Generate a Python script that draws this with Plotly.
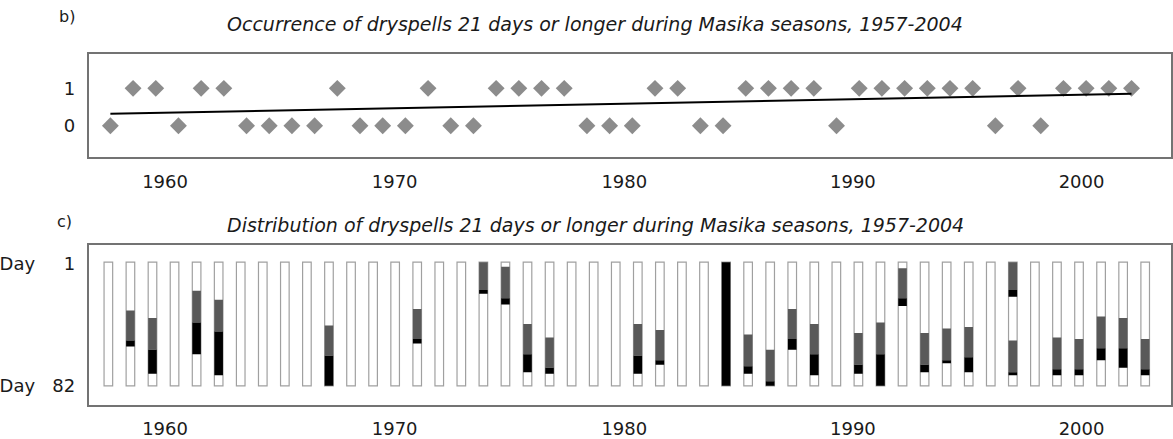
import numpy as np
import plotly.graph_objects as go

# ---------------- data ----------------
# Panel b: occurrence (1 = a dry spell of >= 21 days occurred), seasons in plotted order
occurrence_years = list(range(1957, 1989)) + list(range(1990, 2004))
occurrence = [0, 1, 1, 0, 1, 1, 0, 0, 0, 0, 1, 0, 0, 0, 1, 0, 0, 1, 1, 1, 1, 0, 0, 0,
              1, 1, 0, 0, 1, 1, 1, 1, 0, 1, 1, 1, 1, 1, 1, 0, 1, 0, 1, 1, 1, 1]

# Panel c: distribution of spells within the season (day 1 .. day 82)
season_years = list(range(1957, 2005))
season_length = 82
spell_years = [1958, 1959, 1961, 1962, 1967, 1971, 1974, 1975, 1976, 1977, 1981, 1982,
               1985, 1986, 1987, 1988, 1989, 1991, 1992, 1993, 1994, 1995, 1996, 1998,
               1998, 2000, 2001, 2002, 2003, 2004]
spell_start = [32, 37, 19, 25, 42, 31, 0, 3, 41, 50, 41, 45,
               0, 48, 58, 31, 41, 47, 40, 4, 47, 44, 43, 0,
               52, 50, 51, 36, 37, 51]
black_start = [52, 58, 40, 46, 62, 51, 18.5, 24, 61, 70, 62, 65,
               0, 69, 79, 51, 61, 68, 61, 24, 68, 65, 63, 18.5,
               73, 71, 71, 57, 57, 71]
spell_end = [56, 74, 61, 75, 82, 54, 21, 28, 73, 74, 74, 68,
             82, 74, 82, 58, 75, 74, 82, 29, 73, 67, 73, 23,
             75, 75, 75, 65, 70, 75]

tick_labels = ["1960", "1970", "1980", "1990", "2000"]
day_labels = ["Day\u00a0\u00a0\u00a0\u00a0\u00a01", "Day\u00a0\u00a0\u00a082"]
day_ticks = [1, 82]

title_b = "Occurrence of dryspells 21 days or longer during Masika seasons, 1957-2004"
title_c = "Distribution of dryspells 21 days or longer during Masika seasons, 1957-2004"

# ---------------- style / layout ----------------
W, H = 1173, 439
FONT = "DejaVu Sans"
X0, X1 = 83, 1172            # plot frame, px
label_px = [160, 391, 622, 852, 1082]   # where the reference prints the year labels

pos = list(range(len(occurrence)))
top_range = [-0.964, 46.74]
bot_range = [1956.10, 2005.17]


def px_to_data(px, rng):
    return [rng[0] + (p - X0) / (X1 - X0) * (rng[1] - rng[0]) for p in px]


# trend line (least squares fit of the occurrence series)
slope, intercept = np.polyfit(pos, occurrence, 1)
trend_x = [pos[0], pos[-1]]
trend_y = [intercept + slope * v for v in trend_x]

fig = go.Figure()

fig.add_trace(go.Scatter(
    x=pos, y=occurrence, mode="markers", xaxis="x", yaxis="y",
    marker=dict(symbol="diamond", size=13, color="#8c8c8c"),
    text=[str(y) for y in occurrence_years], hoverinfo="text+y", showlegend=False))
fig.add_trace(go.Scatter(
    x=trend_x, y=trend_y, mode="lines", xaxis="x", yaxis="y",
    line=dict(color="black", width=2), hoverinfo="skip", showlegend=False))

bar_w = 0.39
# empty season bars
fig.add_trace(go.Bar(
    x=season_years, y=[season_length] * len(season_years), base=[0] * len(season_years),
    xaxis="x2", yaxis="y2", width=bar_w,
    marker=dict(color="white", line=dict(color="#a0a0a0", width=1.2)),
    showlegend=False, hoverinfo="x"))
# first 21 days of the spell (grey)
fig.add_trace(go.Bar(
    x=spell_years, y=[b - s for s, b in zip(spell_start, black_start)], base=spell_start,
    xaxis="x2", yaxis="y2", width=bar_w,
    marker=dict(color="#595959", line=dict(width=0)), showlegend=False))
# remainder of the spell (black)
fig.add_trace(go.Bar(
    x=spell_years, y=[e - b for b, e in zip(black_start, spell_end)], base=black_start,
    xaxis="x2", yaxis="y2", width=bar_w,
    marker=dict(color="#000000", line=dict(width=0)), showlegend=False))

frame = dict(showline=True, mirror=True, linecolor="#737373", linewidth=1.5,
             showgrid=False, zeroline=False, ticks="")
tickfont = dict(family=FONT, size=18, color="#1a1a1a")

fig.update_layout(
    width=W, height=H, margin=dict(l=0, r=0, t=0, b=0),
    paper_bgcolor="white", plot_bgcolor="white", barmode="overlay",
    font=dict(family=FONT),
    xaxis=dict(domain=[X0 / W, X1 / W], range=top_range, tickmode="array",
               tickvals=px_to_data(label_px, top_range), ticktext=tick_labels,
               tickfont=tickfont, ticklabelstandoff=8, anchor="y", **frame),
    yaxis=dict(domain=[1 - 160 / H, 1 - 55 / H], range=[-0.84, 1.92], tickmode="array",
               tickvals=[0, 1], ticktext=["0", "1"], tickfont=tickfont,
               ticklabelstandoff=8, anchor="x", **frame),
    xaxis2=dict(domain=[X0 / W, X1 / W], range=bot_range, tickmode="array",
                tickvals=px_to_data(label_px, bot_range), ticktext=tick_labels,
                tickfont=tickfont, ticklabelstandoff=6, anchor="y2", **frame),
    yaxis2=dict(domain=[1 - 413 / H, 1 - 250 / H], range=[95.0, -11.06], tickmode="array",
                tickvals=day_ticks, ticktext=day_labels, tickfont=tickfont,
                ticklabelstandoff=8, anchor="x2", **frame),
    annotations=[
        dict(text="<i>" + title_b + "</i>", x=593 / W, y=1 - 24 / H, xref="paper", yref="paper",
             showarrow=False, xanchor="center", yanchor="middle",
             font=dict(family=FONT, size=19, color="#1a1a1a")),
        dict(text="<i>" + title_c + "</i>", x=593 / W, y=1 - 229 / H, xref="paper", yref="paper",
             showarrow=False, xanchor="center", yanchor="middle",
             font=dict(family=FONT, size=19, color="#1a1a1a")),
        dict(text="b)", x=51 / W, y=1 - 17 / H, xref="paper", yref="paper", showarrow=False,
             xanchor="left", yanchor="middle", font=dict(family=FONT, size=16, color="#1a1a1a")),
        dict(text="c)", x=49 / W, y=1 - 226 / H, xref="paper", yref="paper", showarrow=False,
             xanchor="left", yanchor="middle", font=dict(family=FONT, size=16, color="#1a1a1a")),
    ],
)

fig.write_html("out.html")
